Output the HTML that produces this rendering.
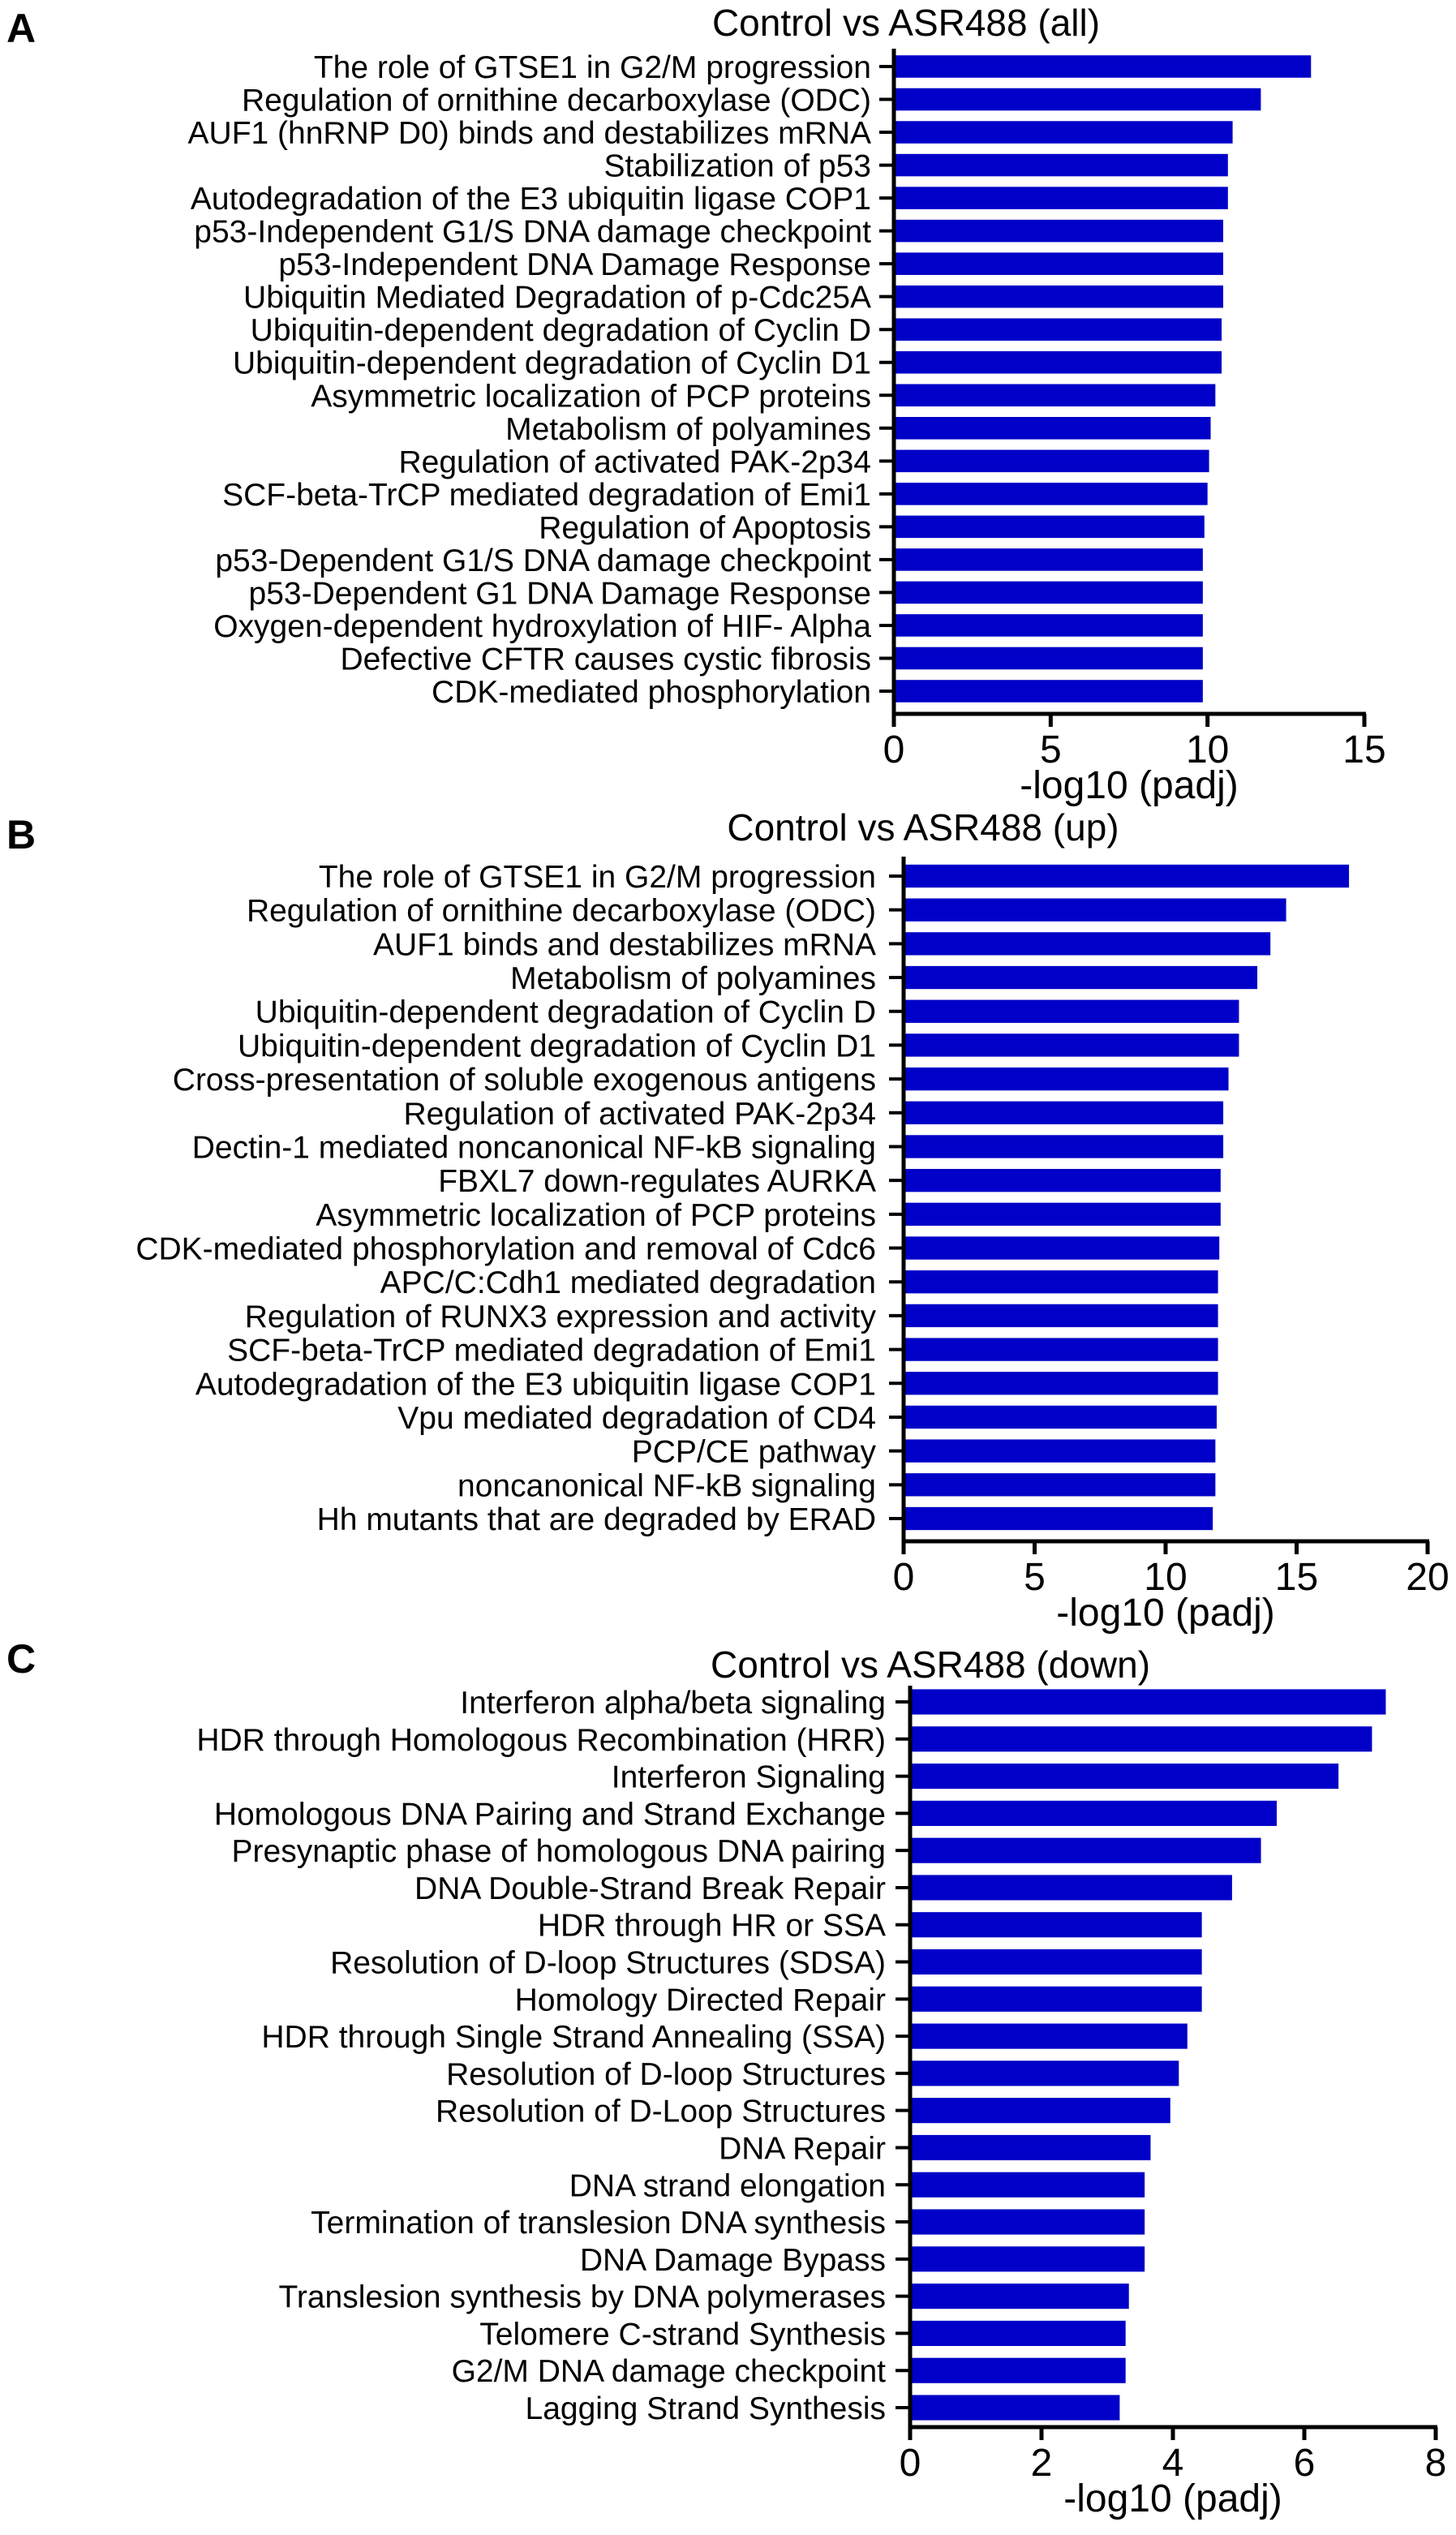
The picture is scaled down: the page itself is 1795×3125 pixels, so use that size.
<!DOCTYPE html>
<html><head><meta charset="utf-8"><style>
html,body{margin:0;padding:0;background:#fff;}
svg{display:block;font-family:"Liberation Sans",Arial,sans-serif;}
</style></head><body>
<svg id="fig" width="1795" height="3125" viewBox="0 0 1795 3125" xmlns="http://www.w3.org/2000/svg"></svg>
<script>
const catsA = ["The role of GTSE1 in G2/M progression","Regulation of ornithine decarboxylase (ODC)","AUF1 (hnRNP D0) binds and destabilizes mRNA","Stabilization of p53","Autodegradation of the E3 ubiquitin ligase COP1","p53-Independent G1/S DNA damage checkpoint","p53-Independent DNA Damage Response","Ubiquitin Mediated Degradation of p-Cdc25A","Ubiquitin-dependent degradation of Cyclin D","Ubiquitin-dependent degradation of Cyclin D1","Asymmetric localization of PCP proteins","Metabolism of polyamines","Regulation of activated PAK-2p34","SCF-beta-TrCP mediated degradation of Emi1","Regulation of Apoptosis","p53-Dependent G1/S DNA damage checkpoint","p53-Dependent G1 DNA Damage Response","Oxygen-dependent hydroxylation of HIF- Alpha","Defective CFTR causes cystic fibrosis","CDK-mediated phosphorylation"];
const valsA = [13.3,11.7,10.8,10.65,10.65,10.5,10.5,10.5,10.45,10.45,10.25,10.1,10.05,10.0,9.9,9.85,9.85,9.85,9.85,9.85];
const ticksA = [0,5,10,15];

const catsB = ["The role of GTSE1 in G2/M progression","Regulation of ornithine decarboxylase (ODC)","AUF1 binds and destabilizes mRNA","Metabolism of polyamines","Ubiquitin-dependent degradation of Cyclin D","Ubiquitin-dependent degradation of Cyclin D1","Cross-presentation of soluble exogenous antigens","Regulation of activated PAK-2p34","Dectin-1 mediated noncanonical NF-kB signaling","FBXL7 down-regulates AURKA","Asymmetric localization of PCP proteins","CDK-mediated phosphorylation and removal of Cdc6","APC/C:Cdh1 mediated degradation","Regulation of RUNX3 expression and activity","SCF-beta-TrCP mediated degradation of Emi1","Autodegradation of the E3 ubiquitin ligase COP1","Vpu mediated degradation of CD4","PCP/CE pathway","noncanonical NF-kB signaling","Hh mutants that are degraded by ERAD"];
const valsB = [17.0,14.6,14.0,13.5,12.8,12.8,12.4,12.2,12.2,12.1,12.1,12.05,12.0,12.0,12.0,12.0,11.95,11.9,11.9,11.8];
const ticksB = [0,5,10,15,20];

const catsC = ["Interferon alpha/beta signaling","HDR through Homologous Recombination (HRR)","Interferon Signaling","Homologous DNA Pairing and Strand Exchange","Presynaptic phase of homologous DNA pairing","DNA Double-Strand Break Repair","HDR through HR or SSA","Resolution of D-loop Structures (SDSA)","Homology Directed Repair","HDR through Single Strand Annealing (SSA)","Resolution of D-loop Structures","Resolution of D-Loop Structures","DNA Repair","DNA strand elongation","Termination of translesion DNA synthesis","DNA Damage Bypass","Translesion synthesis by DNA polymerases","Telomere C-strand Synthesis","G2/M DNA damage checkpoint","Lagging Strand Synthesis"];
const valsC = [7.24,7.03,6.52,5.58,5.34,4.9,4.44,4.44,4.44,4.22,4.09,3.96,3.66,3.57,3.57,3.57,3.33,3.28,3.28,3.19];
const ticksC = [0,2,4,6,8];

const NS="http://www.w3.org/2000/svg";
const svg=document.getElementById('fig');
function mk(tag,attrs,parent){const e=document.createElementNS(NS,tag);for(const k in attrs)e.setAttribute(k,attrs[k]);(parent||svg).appendChild(e);return e;}

function panel(cfg,cats,vals,ticks){
  const g=mk('g',{});
  
  
  const max=ticks[ticks.length-1];
  const xs=v=>cfg.x0+(v/max)*(cfg.x1-cfg.x0);
  const n=cats.length;
  const step=(cfg.yLast-cfg.yFirst)/(n-1);
  const ys=i=>cfg.yFirst+i*step;
  const bh=step*0.68;
  const L=mk('text',{x:cfg.letterX,y:cfg.letterY,'font-size':50,'font-weight':'bold',fill:'#000'},g);
  L.textContent=cfg.letter;
  
  
  const T=mk('text',{x:cfg.titleX,y:cfg.titleY,'font-size':46,'text-anchor':'middle',fill:'#000'},g);
  T.textContent=cfg.title;
  
  
  for(let i=0;i<n;i++){
    const y=ys(i);
    const r=mk('rect',{x:xs(0),y:y-bh/2,width:xs(vals[i])-xs(0),height:bh,fill:'#0000c8'},g);
    
    
    const t=mk('line',{x1:cfg.x0-18,x2:cfg.x0,y1:y,y2:y,stroke:'#000','stroke-width':4},g);
    
    
    const lb=mk('text',{x:cfg.labelX,y:y+14,'font-size':39,'text-anchor':'end',fill:'#000'},g);
    lb.textContent=cats[i];
    
    
  }
  const ya=mk('line',{x1:cfg.x0,x2:cfg.x0,y1:cfg.axisTop,y2:cfg.axisY+2,stroke:'#000','stroke-width':5},g);
  
  
  const xa=mk('line',{x1:cfg.x0-2,x2:xs(max)+2,y1:cfg.axisY,y2:cfg.axisY,stroke:'#000','stroke-width':5},g);
  
  
  for(const tv of ticks){
    const x=xs(tv);
    const tk=mk('line',{x1:x,x2:x,y1:cfg.axisY,y2:cfg.axisY+16,stroke:'#000','stroke-width':5},g);
    
    
    const tl=mk('text',{x:x,y:cfg.axisY+60,'font-size':48,'text-anchor':'middle',fill:'#000'},g);
    tl.textContent=String(tv);
    
    
  }
  const at=mk('text',{x:(cfg.x0+xs(max))/2,y:cfg.axisY+104,'font-size':48,'text-anchor':'middle',fill:'#000'},g);
  at.textContent='-log10 (padj)';
  
  
}

panel({id:'panel-a',letter:'A',letterX:8,letterY:52,title:'Control vs ASR488 (all)',titleX:1117,titleY:44,x0:1102,x1:1682,yFirst:82,yLast:852,axisTop:60,axisY:880,labelX:1074},catsA,valsA,ticksA);
panel({id:'panel-b',letter:'B',letterX:8,letterY:1046,title:'Control vs ASR488 (up)',titleX:1138,titleY:1036,x0:1114,x1:1760,yFirst:1080,yLast:1872,axisTop:1056,axisY:1900,labelX:1080},catsB,valsB,ticksB);
panel({id:'panel-c',letter:'C',letterX:8,letterY:2062,title:'Control vs ASR488 (down)',titleX:1147,titleY:2068,x0:1122,x1:1770,yFirst:2098,yLast:2968,axisTop:2078,axisY:2992,labelX:1092},catsC,valsC,ticksC);
</script>
</body></html>
